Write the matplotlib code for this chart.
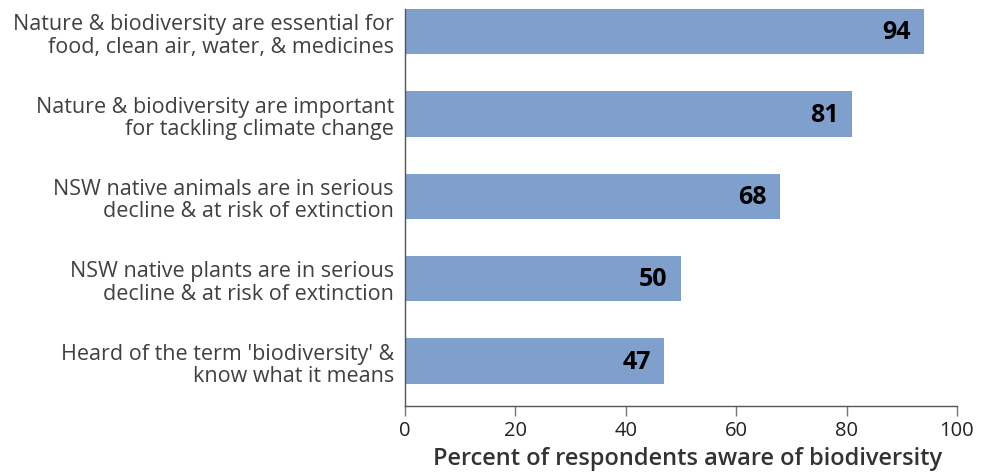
import matplotlib.pyplot as plt

plt.rcParams['font.family'] = ['Open Sans', 'DejaVu Sans']

labels = [
    "Nature & biodiversity are essential for\nfood, clean air, water, & medicines",
    "Nature & biodiversity are important\nfor tackling climate change",
    "NSW native animals are in serious\ndecline & at risk of extinction",
    "NSW native plants are in serious\ndecline & at risk of extinction",
    "Heard of the term 'biodiversity' &\nknow what it means",
]
values = [94, 81, 68, 50, 47]
xticks = [0, 20, 40, 60, 80, 100]


def main():
    fig = plt.figure(figsize=(9.89, 4.77), dpi=100)
    ax = fig.add_axes([0.4095, 0.1468, 0.5581, 0.8322])

    ypos = list(range(len(values)))[::-1]
    ax.barh(ypos, values, height=0.55, color="#7f9fcd")

    for y, v in zip(ypos, values):
        ax.text(v - 2.4, y, str(v), ha="right", va="center",
                fontsize=18, fontweight="bold", color="black")

    ax.set_yticks(ypos)
    ax.set_yticklabels(labels, fontsize=15.5, color="#404040", linespacing=1.1)
    ax.tick_params(axis="y", length=0, pad=8)

    ax.set_xlim(0, 100)
    ax.set_ylim(-0.545, 4.275)
    ax.set_xticks(xticks)
    ax.set_xticklabels([str(t) for t in xticks], fontsize=14.5, color="#222222")
    ax.tick_params(axis="x", length=7, width=1, color="#777777", pad=3)

    ax.spines["top"].set_visible(False)
    ax.spines["right"].set_visible(False)
    for s in ("left", "bottom"):
        ax.spines[s].set_color("#555555")
        ax.spines[s].set_linewidth(1)

    ax.set_xlabel("Percent of respondents aware of biodiversity",
                  fontsize=17, fontweight="semibold", color="#333333")
    ax.xaxis.set_label_coords(0.512, -0.1)
    ax.xaxis.label.set_va("top")

    fig.savefig("out.png", dpi=100)


if __name__ == "__main__":
    main()
